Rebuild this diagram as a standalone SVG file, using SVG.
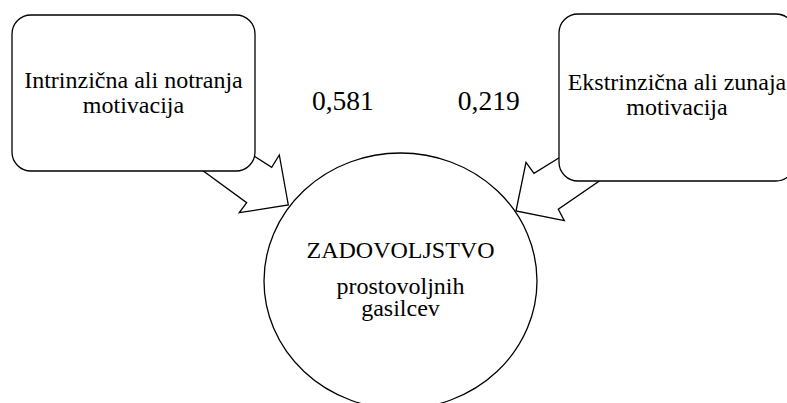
<svg xmlns="http://www.w3.org/2000/svg" width="787" height="403" viewBox="0 0 787 403">
  <style>
    .shape { fill: #ffffff; stroke: #000000; stroke-width: 1.3; stroke-linejoin: miter; }
    .label { font-family: "Liberation Serif", "Times New Roman", serif; font-size: 24px; fill: #000000; text-anchor: middle; }
    .coef { font-family: "Liberation Serif", "Times New Roman", serif; font-size: 27.5px; fill: #000000; text-anchor: middle; }
  </style>
  <rect width="787" height="403" fill="#ffffff"/>

  <!-- central outcome -->
  <g id="zadovoljstvo">
    <ellipse class="shape" cx="400.5" cy="281" rx="136.5" ry="128"/>
    <text class="label" x="400.5" y="258.3">ZADOVOLJSTVO</text>
    <text class="label" x="400.5" y="294">prostovoljnih</text>
    <text class="label" x="400.5" y="315.5">gasilcev</text>
  </g>

  <!-- block arrows pointing into the outcome -->
  <g id="connectors">
    <polygon class="shape" points="254,156 271.7,167.3 279.3,155 288.3,205 239.3,212.7 246.7,202.7 203.3,171"/>
    <polygon class="shape" points="560,157.3 534,173.3 526,162.3 516,211 564.3,220.7 558.3,209.3 599.3,181"/>
  </g>

  <g id="intrinzicna">
    <rect class="shape" x="12" y="15" width="243" height="156" rx="19" ry="19"/>
    <text class="label" x="133.5" y="88.3">Intrinzična ali notranja</text>
    <text class="label" x="133.5" y="113">motivacija</text>
  </g>

  <g id="ekstrinzicna">
    <rect class="shape" x="559" y="14" width="236" height="167" rx="19" ry="19"/>
    <text class="label" x="677" y="90">Ekstrinzična ali zunaja</text>
    <text class="label" x="677" y="115">motivacija</text>
  </g>

  <g id="koeficienti">
    <text class="coef" x="342.9" y="110">0,581</text>
    <text class="coef" x="488.7" y="110">0,219</text>
  </g>
</svg>
